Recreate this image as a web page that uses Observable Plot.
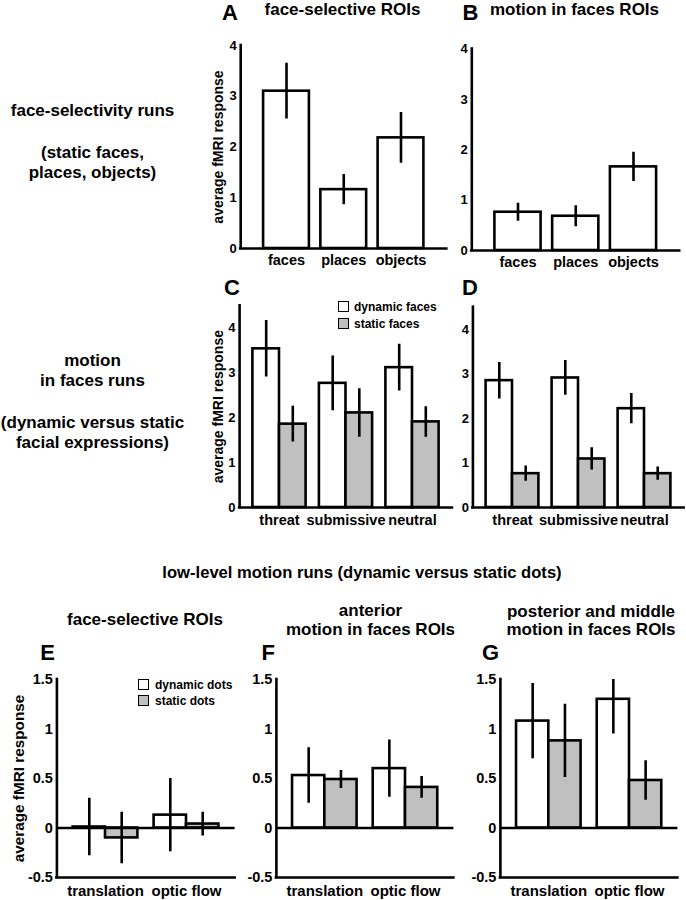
<!DOCTYPE html>
<html><head><meta charset="utf-8">
<script src="https://cdn.jsdelivr.net/npm/d3@7"></script>
<script src="https://cdn.jsdelivr.net/npm/@observablehq/plot@0.6"></script>
<style>
body{margin:0;background:#fff;}
#root{position:relative;width:686px;height:900px;overflow:hidden;background:#fff;font-family:"Liberation Sans",Arial,Helvetica,sans-serif;font-weight:bold;color:#000;}
.t{position:absolute;white-space:nowrap;line-height:1;transform:translate(-50%,-50%);}
.p{position:absolute;}
.p svg{overflow:visible;}
</style></head><body><div id="root"></div>
<script>
// ---------- data ----------
const catsAB = ["faces", "places", "objects"];
const aMean = [3.10, 1.16, 2.18];
const aErr = [0.55, 0.30, 0.50];
const bMean = [0.76, 0.68, 1.66];
const bErr = [0.18, 0.21, 0.29];

const catsCD = ["threat", "submissive", "neutral"];
const cDyn = [3.54, 2.77, 3.12];
const cDynErr = [0.63, 0.61, 0.52];
const cStat = [1.86, 2.11, 1.91];
const cStatErr = [0.40, 0.54, 0.34];
const dDyn = [2.85, 2.91, 2.22];
const dDynErr = [0.41, 0.39, 0.34];
const dStat = [0.76, 1.09, 0.76];
const dStatErr = [0.17, 0.25, 0.15];

const catsEFG = ["translation", "optic flow"];
const eDyn = [0.01, 0.13];
const eDynErr = [0.29, 0.37];
const eStat = [-0.10, 0.04];
const eStatErr = [0.26, 0.12];
const fDyn = [0.53, 0.60];
const fDynErr = [0.28, 0.29];
const fStat = [0.49, 0.41];
const fStatErr = [0.09, 0.11];
const gDyn = [1.08, 1.30];
const gDynErr = [0.38, 0.35];
const gStat = [0.88, 0.48];
const gStatErr = [0.37, 0.20];

const ticksAD = [0, 1, 2, 3, 4];
const ticksEG = [-0.5, 0, 0.5, 1, 1.5];
const yLabel = "average fMRI response";

// ---------- style ----------
const GREY = "#c0c0c0";
const SW = 2.6;
const FONT = '"Liberation Sans", Arial, Helvetica, sans-serif';
const root = document.getElementById("root");

function panel(o) {
  const [fx0, fx1] = o.fx, [fy0, fy1] = o.fy;
  const single = !o.stat;
  const rowsD = o.dyn.map((v, i) => single
    ? {x1: i + 0.6, x2: i + 1.4, xc: i + 1, v, e: o.dynErr[i]}
    : {x1: i + 0.6, x2: i + 1.0, xc: i + 0.8, v, e: o.dynErr[i]});
  const rowsS = single ? [] : o.stat.map((v, i) => ({x1: i + 1.0, x2: i + 1.4, xc: i + 1.2, v, e: o.statErr[i]}));
  const marks = [
    Plot.rect(rowsD, {x1: "x1", x2: "x2", y1: 0, y2: "v", fill: "white", stroke: "black", strokeWidth: SW}),
    Plot.rect(rowsS, {x1: "x1", x2: "x2", y1: 0, y2: "v", fill: GREY, stroke: "black", strokeWidth: SW}),
    Plot.ruleX(rowsD.concat(rowsS), {x: "xc", y1: d => d.v - d.e, y2: d => d.v + d.e, stroke: "black", strokeWidth: SW, clip: true}),
    Plot.ruleX([o.xdom[0]], {y1: o.ydom[0], y2: o.ydom[1], stroke: "black", strokeWidth: SW, strokeLinecap: "square"}),
    Plot.ruleY([o.ydom[0]], {x1: o.xdom[0], x2: o.xdom[1], stroke: "black", strokeWidth: SW, strokeLinecap: "square"}),
    Plot.axisY({ticks: o.yticks, tickFormat: d => String(d), tickSize: 0, tickPadding: 4, fontSize: o.tickFont, fontWeight: "bold", fill: "black", label: null}),
    Plot.axisX({ticks: o.cats.map((c, i) => i + 1), tickFormat: d => o.cats[d - 1], tickSize: 0, tickPadding: o.catPad, fontSize: o.catFont, fontWeight: "bold", fill: "black", label: null})
  ];
  if (o.zero) marks.push(Plot.ruleY([0], {x1: o.xdom[0], x2: o.xdom[1], stroke: "black", strokeWidth: SW}));
  if (o.ylabel) marks.push(Plot.text([o.ylabel], {text: d => d, frameAnchor: "left", textAnchor: "middle", lineAnchor: "middle", rotate: -90, dx: o.ylabelDx, fontSize: o.ylabelSize, fontWeight: "bold", fill: "black"}));
  const chart = Plot.plot({
    width: o.width, height: o.height,
    marginLeft: fx0 - o.left, marginRight: o.left + o.width - fx1,
    marginTop: fy0 - o.top, marginBottom: o.top + o.height - fy1,
    x: {type: "linear", domain: o.xdom},
    y: {type: "linear", domain: o.ydom},
    style: {fontFamily: FONT, fontWeight: "bold", background: "transparent", color: "black", overflow: "visible"},
    marks
  });
  const wrap = document.createElement("div");
  wrap.className = "p";
  wrap.style.left = o.left + "px";
  wrap.style.top = o.top + "px";
  wrap.style.width = o.width + "px";
  wrap.style.height = o.height + "px";
  wrap.appendChild(chart);
  root.appendChild(wrap);
}

function txt(s, x, y, size, align) {
  const d = document.createElement("div");
  d.className = "t";
  d.textContent = s;
  d.style.left = x + "px";
  d.style.top = y + "px";
  d.style.fontSize = size + "px";
  if (align === "left") d.style.transform = "translate(0,-50%)";
  root.appendChild(d);
}
function swatch(x, y, fill) {
  const d = document.createElement("div");
  d.style.cssText = `position:absolute;left:${x}px;top:${y}px;width:9px;height:9px;border:1.5px solid #000;background:${fill}`;
  root.appendChild(d);
}

// ---------- panels ----------
const topCommon = {tickFont: 13, catFont: 14.5, catPad: 6, yticks: ticksAD};
panel({...topCommon, left: 190, top: 30, width: 265, height: 250, fx: [240.2, 446.3], fy: [45, 248],
  xdom: [0.2, 3.8], ydom: [0, 4], cats: catsAB, dyn: aMean, dynErr: aErr,
  ylabel: yLabel, ylabelDx: -22, ylabelSize: 14});
panel({...topCommon, left: 440, top: 30, width: 246, height: 250, fx: [471.3, 679.2], fy: [48.5, 250],
  xdom: [0.2, 3.8], ydom: [0, 4], cats: catsAB, dyn: bMean, dynErr: bErr});
panel({...topCommon, catPad: 7, left: 190, top: 290, width: 265, height: 240, fx: [239.1, 451.9], fy: [305.3, 507],
  xdom: [0.4, 3.6], ydom: [0, 4.5], cats: catsCD, dyn: cDyn, dynErr: cDynErr, stat: cStat, statErr: cStatErr,
  ylabel: yLabel, ylabelDx: -21, ylabelSize: 14});
panel({...topCommon, catPad: 7, left: 440, top: 290, width: 246, height: 240, fx: [472.4, 683.6], fy: [306.7, 507],
  xdom: [0.4, 3.6], ydom: [0, 4.5], cats: catsCD, dyn: dDyn, dynErr: dDynErr, stat: dStat, statErr: dStatErr});

const botCommon = {tickFont: 14.5, catFont: 15, catPad: 8, yticks: ticksEG, xdom: [0.4, 2.6], ydom: [-0.5, 1.5], fy: [679, 877], top: 660, height: 240, cats: catsEFG, zero: true};
panel({...botCommon, left: 0, width: 240, fx: [56.4, 234.6], dyn: eDyn, dynErr: eDynErr, stat: eStat, statErr: eStatErr,
  ylabel: yLabel, ylabelDx: -38, ylabelSize: 15.3});
panel({...botCommon, left: 240, width: 220, fx: [275.9, 453.4], dyn: fDyn, dynErr: fDynErr, stat: fStat, statErr: fStatErr});
panel({...botCommon, left: 463, width: 223, fx: [499.9, 677.4], dyn: gDyn, dynErr: gDynErr, stat: gStat, statErr: gStatErr});

// ---------- texts ----------
txt("A", 230, 12.5, 22);
txt("face-selective ROIs", 342.5, 9, 17);
txt("B", 470.5, 12.5, 22);
txt("motion in faces ROIs", 574.5, 9, 17);
txt("C", 232, 287.5, 22);
txt("D", 470, 287.5, 22);

txt("face-selectivity runs", 92.5, 110, 17);
txt("(static faces,", 92.5, 151.7, 17);
txt("places, objects)", 92.5, 171.7, 17);
txt("motion", 92.5, 360, 17);
txt("in faces runs", 92.5, 380, 17);
txt("(dynamic versus static", 92.5, 421.7, 17);
txt("facial expressions)", 92.5, 441.7, 17);

txt("low-level motion runs (dynamic versus static dots)", 362, 573, 16.6);
txt("face-selective ROIs", 145, 619, 17);
txt("anterior", 370.5, 610, 17);
txt("motion in faces ROIs", 370.5, 629, 17);
txt("posterior and middle", 591, 610.5, 17);
txt("motion in faces ROIs", 591, 629, 17);
txt("E", 47.5, 652.5, 22);
txt("F", 268.3, 653, 22);
txt("G", 490.5, 652.5, 22);

// legends
swatch(338, 301, "white");
txt("dynamic faces", 354, 306.5, 12, "left");
swatch(338, 318, GREY);
txt("static faces", 354, 323.5, 12, "left");
swatch(138, 679, "white");
txt("dynamic dots", 155, 684.5, 12, "left");
swatch(138, 695, GREY);
txt("static dots", 155, 700.5, 12, "left");
</script></body></html>
